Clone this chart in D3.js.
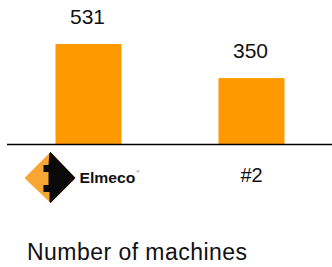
<!DOCTYPE html>
<html>
<head>
<meta charset="utf-8">
<script src="https://cdn.jsdelivr.net/npm/d3@7"></script>
<style>
  body { margin: 0; background: #fff; }
  svg { display: block; font-family: "Liberation Sans", Arial, sans-serif; }
</style>
</head>
<body>
<svg id="chart" width="332" height="267"></svg>
<script>
// data
const categories = ["Elmeco", "#2"];
const machines = [531, 350];
const title = "Number of machines";

const width = 332, height = 267;
const baseY = 144;

const svg = d3.select("#chart");

const x = d3.scaleBand()
  .domain(categories)
  .range([7, 333])
  .paddingInner(0.595)
  .paddingOuter(0.2975);

const y = d3.scaleLinear()
  .domain([0, 531])
  .range([baseY, 44]);

// bars
svg.append("g")
  .selectAll("rect")
  .data(categories)
  .join("rect")
  .attr("x", d => x(d))
  .attr("y", (d, i) => y(machines[i]))
  .attr("width", x.bandwidth())
  .attr("height", (d, i) => baseY - y(machines[i]))
  .attr("fill", "#ff9900");

// value labels
svg.append("g")
  .selectAll("text")
  .data(categories)
  .join("text")
  .attr("x", d => x(d) + x.bandwidth() / 2 - 1)
  .attr("y", (d, i) => y(machines[i]) - 20)
  .attr("text-anchor", "middle")
  .style("font-size", "21px")
  .attr("fill", "#111")
  .text((d, i) => machines[i]);

// category axis
const xAxis = svg.append("g")
  .attr("transform", `translate(0,${baseY})`)
  .call(d3.axisBottom(x).tickSize(0).tickPadding(0).tickFormat(d => d == "Elmeco" ? "" : d));

xAxis.select(".domain")
  .attr("d", "M7,0.5H332")
  .attr("stroke", "#000")
  .attr("stroke-width", 1.5);

xAxis.selectAll(".tick text")
  .attr("y", 38)
  .attr("dy", 0)
  .attr("fill", "#111")
  .style("font-size", "20px")
  .style("font-family", "'Liberation Sans', Arial, sans-serif");

// logo for first category (drawn in place of the image)
const logo = xAxis.selectAll(".tick")
  .filter(d => d == "Elmeco")
  .append("g")
  .attr("text-anchor", "start")
  .attr("transform", "translate(-38,34)");

logo.append("clipPath")
  .attr("id", "dia")
  .append("path")
  .attr("d", "M-26,0L0,-26L25,0L0,25Z");

logo.append("path")
  .attr("d", "M-26,0L0,-26L25,0L0,25Z")
  .attr("fill", "#f7a634");

logo.append("path")
  .attr("clip-path", "url(#dia)")
  .attr("d", "M-1,-27L30,-27L30,27L-1,27L-1,14L-7,14L-7,7L-2,7L-2,-6L-7,-6L-7,-13L-2,-13Z")
  .attr("fill", "#0a0a0a");

logo.append("text")
  .attr("x", 29)
  .attr("y", 4.5)
  .attr("textLength", 56)
  .attr("lengthAdjust", "spacingAndGlyphs")
  .style("font-size", "14px")
  .style("font-weight", "900")
  .style("font-family", "'Liberation Sans', Arial, sans-serif")
  .attr("fill", "#111")
  .text("Elmeco");

logo.append("text")
  .attr("x", 86)
  .attr("y", -5)
  .style("font-size", "4px")
  .attr("fill", "#444")
  .text("®");

// title
svg.append("text")
  .attr("x", 27)
  .attr("y", 260)
  .attr("textLength", 220)
  .style("font-size", "23px")
  .attr("fill", "#111")
  .text(title);
</script>
</body>
</html>
